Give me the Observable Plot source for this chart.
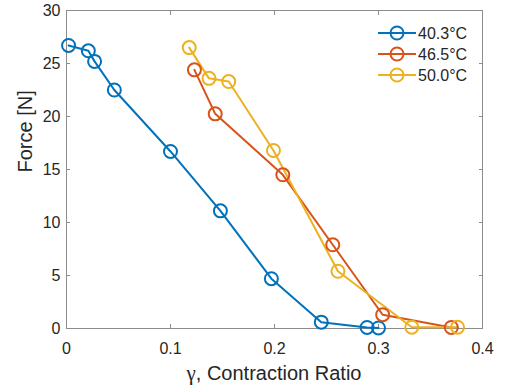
<!DOCTYPE html>
<html>
<head>
<meta charset="utf-8">
<script src="https://cdn.jsdelivr.net/npm/d3@7"></script>
<script src="https://cdn.jsdelivr.net/npm/@observablehq/plot@0.6"></script>
<style>
  html, body { margin: 0; padding: 0; background: #fff; }
  #chart { position: relative; width: 506px; height: 388px; }
</style>
</head>
<body>
<div id="chart"></div>
<script>
const seriesNames = ["40.3°C", "46.5°C", "50.0°C"];
const seriesColors = ["#0072BD", "#D95319", "#EDB120"];

const gamma403 = [0.002, 0.021, 0.027, 0.046, 0.100, 0.148, 0.197, 0.245, 0.289, 0.300];
const force403 = [26.7, 26.2, 25.2, 22.5, 16.7, 11.1, 4.7, 0.6, 0.1, 0.05];

const gamma465 = [0.123, 0.143, 0.208, 0.256, 0.304, 0.370];
const force465 = [24.4, 20.25, 14.5, 7.9, 1.3, 0.1];

const gamma500 = [0.118, 0.137, 0.156, 0.199, 0.261, 0.332, 0.376];
const force500 = [26.5, 23.6, 23.3, 16.8, 5.4, 0.12, 0.12];

const xTicks = [0, 0.1, 0.2, 0.3, 0.4];
const yTicks = [0, 5, 10, 15, 20, 25, 30];
const xLabelSymbol = "γ";
const xLabelRest = ", Contraction Ratio";
const yLabel = "Force [N]";

const groups = [[gamma403, force403], [gamma465, force465], [gamma500, force500]];
const data = [];
groups.forEach(([gs, fs], i) => gs.forEach((g, j) => data.push({series: seriesNames[i], gamma: g, force: fs[j]})));

const axisColor = "#262626";
const frameColor = "#8c8c8c";
const tl = 4;

const plot = Plot.plot({
  width: 506,
  height: 388,
  marginLeft: 66,
  marginRight: 24,
  marginTop: 10,
  marginBottom: 60,
  style: {fontFamily: "'Liberation Sans', Arial, sans-serif", fontSize: "16px", color: axisColor, background: "#fff"},
  x: {domain: [0, 0.4]},
  y: {domain: [0, 30]},
  color: {domain: seriesNames, range: seriesColors},
  marks: [
    // tick labels
    Plot.axisX({ticks: xTicks, tickFormat: d => String(d), tickSize: 0, tickPadding: 14, label: null}),
    Plot.axisY({ticks: yTicks, tickFormat: d => String(d), tickSize: 0, tickPadding: 6, label: null}),
    // inward tick marks on all four sides
    Plot.axisX({ticks: xTicks, tickFormat: () => "", tickSize: tl, dy: -tl, stroke: frameColor, label: null}),
    Plot.axisX({anchor: "top", ticks: xTicks, tickFormat: () => "", tickSize: tl, dy: tl, stroke: frameColor, label: null}),
    Plot.axisY({ticks: yTicks, tickFormat: () => "", tickSize: tl, dx: tl, stroke: frameColor, label: null}),
    Plot.axisY({anchor: "right", ticks: yTicks, tickFormat: () => "", tickSize: tl, dx: -tl, stroke: frameColor, label: null}),
    Plot.frame({stroke: frameColor}),
    Plot.line(data, {x: "gamma", y: "force", z: "series", stroke: "series", strokeWidth: 2}),
    Plot.dot(data, {x: "gamma", y: "force", stroke: "series", r: 6.5, strokeWidth: 2, fill: "none"}),
    Plot.text([yLabel], {frameAnchor: "left", dx: -41, dy: 3, rotate: -90, fontSize: 20, fill: axisColor, text: d => d})
  ]
});
document.getElementById("chart").appendChild(plot);

const svg = d3.select(plot);

// x axis label with a serif gamma
const xl = svg.append("text")
  .attr("x", (66 + 482) / 2).attr("y", 380)
  .attr("text-anchor", "middle").attr("fill", axisColor).attr("font-size", 20);
xl.append("tspan").attr("font-family", "'Liberation Serif', 'DejaVu Serif', serif").attr("font-size", 21).text(xLabelSymbol);
xl.append("tspan").text(xLabelRest);

// legend (inside axes, top-right)
const lg = svg.append("g").attr("transform", "translate(378,33)");
seriesNames.forEach((name, i) => {
  const row = lg.append("g").attr("transform", `translate(0,${i * 21})`);
  row.append("line").attr("x1", 0).attr("x2", 38).attr("y1", 0).attr("y2", 0)
    .attr("stroke", seriesColors[i]).attr("stroke-width", 2);
  row.append("circle").attr("cx", 19).attr("cy", 0).attr("r", 6.5)
    .attr("fill", "none").attr("stroke", seriesColors[i]).attr("stroke-width", 2);
  row.append("text").attr("x", 40).attr("y", 0).attr("dy", "0.36em")
    .attr("text-anchor", "start").attr("font-size", 16).attr("fill", axisColor).text(name);
});
</script>
</body>
</html>
